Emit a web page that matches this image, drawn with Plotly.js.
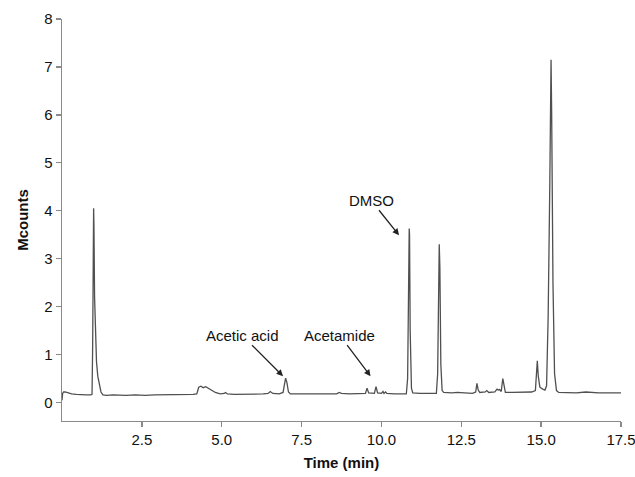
<!DOCTYPE html>
<html>
<head>
<meta charset="utf-8">
<script src="https://cdn.plot.ly/plotly-3.0.1.min.js"></script>
<style>html,body{margin:0;padding:0;background:#fff}#chart{width:635px;height:477px}</style>
</head>
<body>
<div id="chart"></div>
<script>
// Retention time (min)
const timeMin = [0.00,0.02,0.05,0.10,0.20,0.30,0.45,0.60,0.75,0.90,0.94,0.96,0.98,0.99,1.00,1.02,1.05,1.08,1.12,1.17,1.22,1.28,1.40,1.60,1.80,2.00,2.30,2.60,2.90,3.20,3.50,3.80,4.10,4.22,4.28,4.35,4.42,4.50,4.58,4.68,4.80,4.95,5.08,5.12,5.18,5.40,5.70,6.00,6.30,6.45,6.52,6.60,6.80,6.92,6.97,7.00,7.04,7.09,7.15,7.40,7.70,8.00,8.30,8.60,8.68,8.75,9.00,9.30,9.50,9.55,9.60,9.78,9.83,9.88,10.00,10.05,10.08,10.13,10.17,10.40,10.60,10.78,10.82,10.85,10.87,10.88,10.90,10.94,10.98,11.20,11.50,11.72,11.76,11.79,11.81,11.83,11.86,11.90,11.95,12.20,12.38,12.60,12.85,12.95,12.99,13.03,13.08,13.25,13.30,13.36,13.55,13.62,13.66,13.70,13.75,13.80,13.84,13.88,14.10,14.40,14.70,14.82,14.86,14.88,14.91,14.96,15.05,15.12,15.17,15.22,15.27,15.31,15.33,15.37,15.42,15.48,15.55,15.80,16.10,16.40,16.55,16.80,17.10,17.50];
// Signal (Mcounts)
const mcounts = [0.05,0.19,0.22,0.22,0.20,0.18,0.17,0.16,0.16,0.16,0.17,1.2,3.2,4.05,3.7,2.2,1.3,0.85,0.55,0.35,0.22,0.16,0.15,0.16,0.15,0.15,0.16,0.15,0.16,0.16,0.16,0.17,0.17,0.18,0.32,0.34,0.31,0.33,0.30,0.25,0.21,0.18,0.19,0.21,0.18,0.17,0.17,0.17,0.18,0.19,0.23,0.19,0.18,0.21,0.45,0.51,0.42,0.22,0.18,0.18,0.18,0.18,0.18,0.18,0.21,0.19,0.18,0.18,0.19,0.30,0.20,0.19,0.33,0.20,0.19,0.23,0.19,0.22,0.19,0.18,0.18,0.18,0.5,3.0,3.63,3.5,1.5,0.3,0.20,0.19,0.19,0.19,0.6,3.1,3.3,2.8,0.8,0.25,0.21,0.20,0.21,0.20,0.19,0.22,0.40,0.26,0.21,0.22,0.25,0.21,0.22,0.28,0.26,0.27,0.23,0.50,0.30,0.21,0.21,0.21,0.22,0.25,0.80,0.87,0.55,0.32,0.28,0.26,0.35,1.8,4.5,7.15,6.0,2.5,0.6,0.25,0.21,0.20,0.20,0.22,0.21,0.20,0.20,0.20];

const xTickVals = [2.5,5.0,7.5,10.0,12.5,15.0,17.5];
const xTickText = ['2.5','5.0','7.5','10.0','12.5','15.0','17.5'];
const yTickVals = [0,1,2,3,4,5,6,7,8];

// Labelled compounds: name, arrow-head time, arrow-head signal
const labelNames = ['Acetic acid','Acetamide','DMSO'];
const labelTimes = [6.92,9.66,10.55];
const labelSignals = [0.55,0.55,3.49];

const axisColor = '#8a8a8a';
const annOffsets = [[-41,-41],[-31,-41],[-28,-35]];

const annotations = labelNames.map((n,i)=>({
  x: labelTimes[i], y: labelSignals[i], xref:'x', yref:'y',
  text: n, showarrow: true, arrowhead: 2, arrowsize: 1, arrowwidth: 1.3,
  arrowcolor: '#222', ax: annOffsets[i][0], ay: annOffsets[i][1],
  font: {family:'Liberation Sans, Arial, sans-serif', size:15, color:'#111'}
}));

Plotly.newPlot('chart', [{
  x: timeMin, y: mcounts, type:'scatter', mode:'lines',
  line:{color:'#505050', width:1.3}, hoverinfo:'skip'
}], {
  width:635, height:477,
  margin:{l:62, r:14, t:19, b:56},
  paper_bgcolor:'#fff', plot_bgcolor:'#fff',
  showlegend:false,
  font:{family:'Liberation Sans, Arial, sans-serif', size:15, color:'#111'},
  xaxis:{
    range:[0,17.5], tickvals:xTickVals, ticktext:xTickText,
    showgrid:false, zeroline:false, showline:true, linecolor:axisColor, linewidth:1.3,
    ticks:'outside', ticklen:5, tickcolor:axisColor, tickwidth:1.3,
    ticklabeloverflow:'allow',
    tickfont:{size:15, color:'#111'},
    title:{text:'<b>Time (min)</b>', font:{size:15, color:'#111'}, standoff:10}
  },
  yaxis:{
    range:[-0.385,8], tickvals:yTickVals,
    showgrid:false, zeroline:false, showline:true, linecolor:axisColor, linewidth:1.3,
    ticks:'outside', ticklen:5, tickcolor:axisColor, tickwidth:1.3,
    tickfont:{size:15, color:'#111'},
    title:{text:'<b>Mcounts</b>', font:{size:15, color:'#111'}, standoff:12}
  },
  annotations: annotations
}, {staticPlot:true, displayModeBar:false});
</script>
</body>
</html>
